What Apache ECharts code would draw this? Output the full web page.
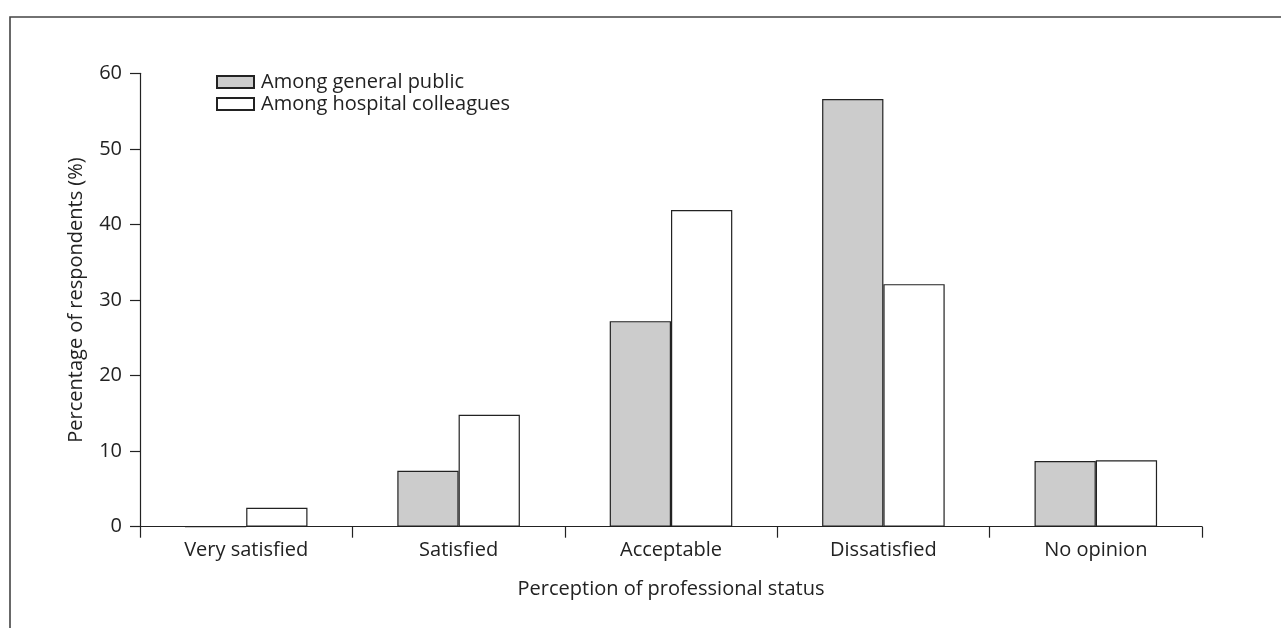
<!DOCTYPE html>
<html><head><meta charset="utf-8">
<script src="https://cdn.jsdelivr.net/npm/echarts@6/dist/echarts.min.js"></script>
<style>html,body{margin:0;padding:0;background:#fff}#c{width:1281px;height:628px}</style>
</head><body><div id="c"></div>
<script>
const categories = ['Very satisfied', 'Satisfied', 'Acceptable', 'Dissatisfied', 'No opinion'];
const generalPublic = [0, 7.4, 27.2, 56.6, 8.7];
const hospitalColleagues = [2.5, 14.8, 41.9, 32.1, 8.8];
const seriesNames = ['Among general public', 'Among hospital colleagues'];

const FONT = '"Open Sans", "Noto Sans", sans-serif';
const TXT = '#222';
const FS = 20;
const chart = echarts.init(document.getElementById('c'), null, {renderer: 'canvas'});
chart.setOption({
  animation: false,
  backgroundColor: '#fff',
  textStyle: {fontFamily: FONT, color: TXT},
  graphic: [{
    type: 'rect', shape: {x: 10, y: 17, width: 1300, height: 700},
    style: {fill: 'none', stroke: '#444', lineWidth: 1.6}, silent: true
  }],
  legend: {
    left: 211, top: 67, orient: 'vertical', itemGap: 2,
    itemWidth: 37, itemHeight: 12, icon: 'rect',
    textStyle: {fontSize: FS, color: TXT, fontFamily: FONT, padding: [0, 0, 0, 2]},
    data: seriesNames
  },
  grid: {left: 140, right: 79, top: 73.3, bottom: 101.3, containLabel: false},
  xAxis: {
    type: 'category', data: categories,
    axisLine: {lineStyle: {color: '#222', width: 1.2}},
    axisTick: {show: true, length: 11, lineStyle: {color: '#222', width: 1.2}},
    axisLabel: {fontSize: FS, color: TXT, margin: 14, fontFamily: FONT},
    name: 'Perception of professional status', nameLocation: 'middle', nameGap: 53,
    nameTextStyle: {fontSize: FS, color: TXT, fontFamily: FONT}
  },
  yAxis: {
    type: 'value', min: 0, max: 60, interval: 10,
    axisLine: {show: true, lineStyle: {color: '#222', width: 1.2}},
    axisTick: {show: true, length: 10, inside: false, lineStyle: {color: '#222', width: 1.2}},
    axisLabel: {fontSize: FS, color: TXT, margin: 18, fontFamily: FONT},
    splitLine: {show: false},
    name: 'Percentage of respondents (%)', nameLocation: 'middle', nameGap: 54,
    nameTextStyle: {fontSize: FS, color: TXT, fontFamily: FONT}
  },
  series: [
    {name: seriesNames[0], type: 'bar', data: generalPublic, barGap: '0%', barCategoryGap: '42.3%',
     itemStyle: {color: '#cccccc', borderColor: '#222', borderWidth: 1.2}},
    {name: seriesNames[1], type: 'bar', data: hospitalColleagues, barGap: '0%', barCategoryGap: '42.3%',
     itemStyle: {color: '#ffffff', borderColor: '#222', borderWidth: 1.2}}
  ]
});
</script></body></html>
